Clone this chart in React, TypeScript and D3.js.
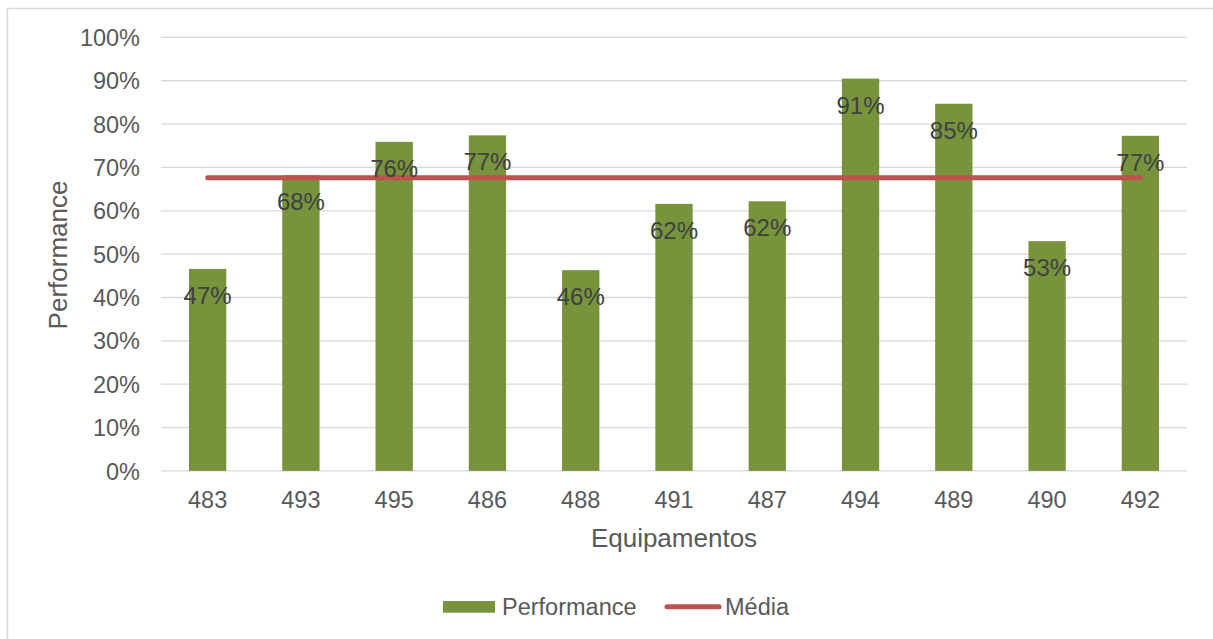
import React from "react";
import * as d3 from "d3";

// Equipment codes along the x axis
const equipamentos = ["483", "493", "495", "486", "488", "491", "487", "494", "489", "490", "492"];
// Performance per equipment, in percent
const performance = [46.6, 68.2, 75.9, 77.4, 46.3, 61.6, 62.2, 90.5, 84.7, 53.0, 77.3];
// Average line value repeated per category
const media = [67.6, 67.6, 67.6, 67.6, 67.6, 67.6, 67.6, 67.6, 67.6, 67.6, 67.6];
// Y axis ticks, percent
const yTicks = [0, 10, 20, 30, 40, 50, 60, 70, 80, 90, 100];

const W = 1213;
const H = 639;
const FONT = "Arial, 'Liberation Sans', sans-serif";
const GREEN = "#77933c";
const RED = "#c0504d";
const AXIS_TEXT = "#595959";
const LABEL_TEXT = "#404040";

export default function App() {
  const x = d3
    .scaleBand<string>()
    .domain(equipamentos)
    .range([161, 1187])
    .paddingInner(0.6)
    .paddingOuter(0.3);
  const y = d3.scaleLinear().domain([0, 100]).range([470.9, 37.4]);

  const cx = (c: string) => (x(c) ?? 0) + x.bandwidth() / 2;

  const mediaLine = d3
    .line<number>()
    .x((_, i) => cx(equipamentos[i]))
    .y((d) => y(d));

  return (
    <svg
      width={W}
      height={H}
      style={{ position: "absolute", left: 0, top: 0, background: "#fff" }}
      fontFamily={FONT}
    >
      <rect x={7.5} y={8.5} width={W + 10} height={H + 10} fill="#fff" stroke="#d9d9d9" strokeWidth={1.5} />

      {/* gridlines */}
      {yTicks.map((t) => (
        <line key={t} x1={161} x2={1187} y1={y(t)} y2={y(t)} stroke="#d9d9d9" strokeWidth={1.3} />
      ))}

      {/* y tick labels */}
      {yTicks.map((t) => (
        <text key={t} x={140} y={y(t) + 8.6} textAnchor="end" fontSize={23.5} fill={AXIS_TEXT}>
          {`${t}%`}
        </text>
      ))}

      {/* bars */}
      {performance.map((v, i) => (
        <rect
          key={equipamentos[i]}
          x={x(equipamentos[i])}
          y={y(v)}
          width={x.bandwidth()}
          height={y(0) - y(v)}
          fill={GREEN}
        />
      ))}

      {/* média line */}
      <path d={mediaLine(media) ?? ""} fill="none" stroke={RED} strokeWidth={5} strokeLinecap="round" />

      {/* data labels */}
      {performance.map((v, i) => (
        <text
          key={equipamentos[i]}
          x={cx(equipamentos[i])}
          y={y(v) + 35}
          textAnchor="middle"
          fontSize={24}
          fill={LABEL_TEXT}
        >
          {`${Math.round(v)}%`}
        </text>
      ))}

      {/* x tick labels */}
      {equipamentos.map((c) => (
        <text key={c} x={cx(c)} y={508.3} textAnchor="middle" fontSize={23.5} fill={AXIS_TEXT}>
          {c}
        </text>
      ))}

      {/* axis titles */}
      <text x={674} y={547.3} textAnchor="middle" fontSize={26} fill={AXIS_TEXT}>
        Equipamentos
      </text>
      <text
        transform={`translate(67,255) rotate(-90)`}
        textAnchor="middle"
        fontSize={26}
        fill={AXIS_TEXT}
      >
        Performance
      </text>

      {/* legend */}
      <rect x={443} y={601} width={52} height={11.7} fill={GREEN} />
      <text x={502} y={615} fontSize={23.5} fill={AXIS_TEXT}>
        Performance
      </text>
      <line x1={667} x2={719} y1={606.7} y2={606.7} stroke={RED} strokeWidth={5} strokeLinecap="round" />
      <text x={725} y={615} fontSize={23.5} fill={AXIS_TEXT}>
        Média
      </text>
    </svg>
  );
}
